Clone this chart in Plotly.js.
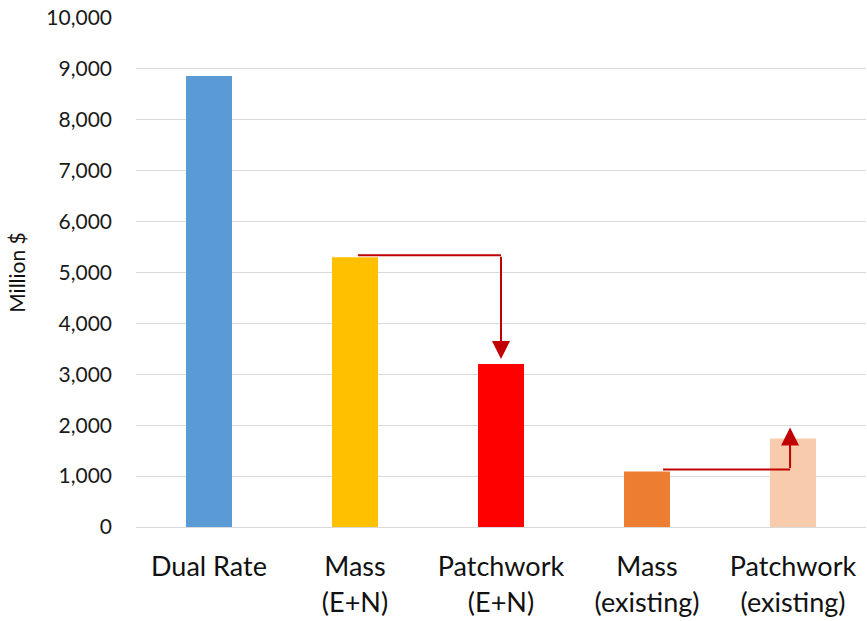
<!DOCTYPE html>
<html>
<head>
<meta charset="utf-8">
<script src="https://cdn.plot.ly/plotly-3.0.1.min.js"></script>
<style>html,body{margin:0;padding:0;background:#fff;}#chart{width:867px;height:621px;}</style>
</head>
<body>
<div id="chart"></div>
<script>
const categories = ["Dual Rate", "Mass (E+N)", "Patchwork (E+N)", "Mass (existing)", "Patchwork (existing)"];
const tickLabels = ["Dual Rate", "Mass<br>(E+N)", "Patchwork<br>(E+N)", "Mass<br>(existing)", "Patchwork<br>(existing)"];
const values = [8860, 5300, 3200, 1090, 1740];
const barColors = ["#5B9BD5", "#FFC000", "#FF0000", "#ED7D31", "#F8CBAD"];
const arrowColor = "#C00000";

const FONT = "Lato, 'Open Sans', sans-serif";

const trace = {
  type: "bar",
  x: categories,
  y: values,
  marker: {color: barColors},
  width: 0.315,
  hoverinfo: "x+y"
};

const a1y = values[1] + 40;
const a2y = values[3] + 40;
const shapes = [
  {type: "line", xref: "x", yref: "y", x0: 1.02, x1: 2.0, y0: a1y, y1: a1y,
   line: {color: arrowColor, width: 2}},
  {type: "line", xref: "x", yref: "y", x0: 3.11, x1: 3.98, y0: a2y, y1: a2y,
   line: {color: arrowColor, width: 2}}
];
const annotations = [
  {x: 2.0, y: values[2] + 100, xref: "x", yref: "y", ax: 2.0, ay: a1y, axref: "x", ayref: "y",
   showarrow: true, arrowhead: 2, arrowsize: 1.8, arrowwidth: 2, arrowcolor: arrowColor, text: ""},
  {x: 3.98, y: values[4] + 215, xref: "x", yref: "y", ax: 3.98, ay: a2y, axref: "x", ayref: "y",
   showarrow: true, arrowhead: 2, arrowsize: 1.8, arrowwidth: 2, arrowcolor: arrowColor, text: ""}
];

const layout = {
  width: 867,
  height: 621,
  margin: {l: 136, r: 1, t: 18, b: 94},
  paper_bgcolor: "#fff",
  plot_bgcolor: "#fff",
  showlegend: false,
  font: {family: FONT, color: "#1a1a1a"},
  xaxis: {
    tickmode: "array",
    tickvals: categories,
    ticktext: tickLabels,
    tickfont: {size: 27, family: FONT, color: "#111"},
    showline: true,
    linecolor: "#d9d9d9",
    linewidth: 1,
    ticks: "",
    ticklabelstandoff: 16,
    showgrid: false,
    fixedrange: true
  },
  yaxis: {
    range: [0, 10000],
    dtick: 1000,
    tickformat: ",",
    tickfont: {size: 21, family: FONT, color: "#1a1a1a"},
    gridcolor: "#d9d9d9",
    gridwidth: 1,
    zeroline: true,
    zerolinecolor: "#d9d9d9",
    showline: false,
    ticks: "",
    ticklabelstandoff: 23,
    title: {text: "Million $", font: {size: 21, family: FONT, color: "#111"}, standoff: 14},
    fixedrange: true
  },
  shapes: shapes,
  annotations: annotations
};

Plotly.newPlot("chart", [trace], layout, {displayModeBar: false, staticPlot: true});
</script>
</body>
</html>
